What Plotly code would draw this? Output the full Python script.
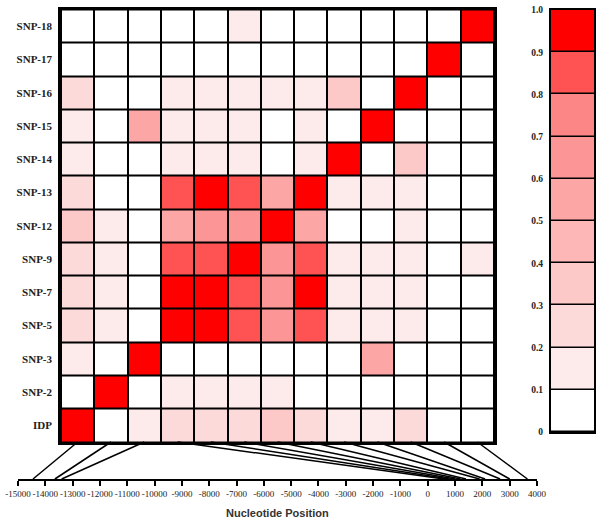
import plotly.graph_objects as go

# ---------------- data ----------------
snps = ["IDP", "SNP-2", "SNP-3", "SNP-5", "SNP-7", "SNP-9", "SNP-12",
        "SNP-13", "SNP-14", "SNP-15", "SNP-16", "SNP-17", "SNP-18"]

# nucleotide position of each marker (bp, relative)
positions = [-14450, -13650, -13400, 600, 800, 1000, 1200,
             1400, 1900, 2100, 2650, 3000, 3650]

# LD (r^2) matrix, rows from bottom (IDP) to top (SNP-18), columns in snps order
ld = [
    [1.00, 0.05, 0.15, 0.25, 0.25, 0.25, 0.35, 0.25, 0.15, 0.15, 0.25, 0.05, 0.05],  # IDP
    [0.05, 1.00, 0.05, 0.15, 0.15, 0.15, 0.15, 0.05, 0.05, 0.05, 0.05, 0.05, 0.05],  # SNP-2
    [0.15, 0.05, 1.00, 0.05, 0.05, 0.05, 0.05, 0.05, 0.05, 0.58, 0.05, 0.05, 0.05],  # SNP-3
    [0.25, 0.15, 0.05, 1.00, 0.95, 0.85, 0.65, 0.85, 0.15, 0.15, 0.15, 0.05, 0.05],  # SNP-5
    [0.25, 0.15, 0.05, 0.95, 1.00, 0.85, 0.68, 0.95, 0.15, 0.15, 0.15, 0.05, 0.05],  # SNP-7
    [0.25, 0.15, 0.05, 0.85, 0.85, 1.00, 0.65, 0.85, 0.15, 0.15, 0.15, 0.05, 0.15],  # SNP-9
    [0.35, 0.15, 0.05, 0.55, 0.65, 0.65, 1.00, 0.55, 0.05, 0.05, 0.15, 0.05, 0.05],  # SNP-12
    [0.25, 0.05, 0.05, 0.85, 0.95, 0.85, 0.55, 1.00, 0.15, 0.15, 0.15, 0.05, 0.05],  # SNP-13
    [0.15, 0.05, 0.05, 0.15, 0.15, 0.15, 0.05, 0.15, 1.00, 0.05, 0.35, 0.05, 0.05],  # SNP-14
    [0.15, 0.05, 0.58, 0.15, 0.15, 0.15, 0.05, 0.15, 0.05, 1.00, 0.05, 0.05, 0.05],  # SNP-15
    [0.25, 0.05, 0.05, 0.15, 0.15, 0.15, 0.15, 0.15, 0.35, 0.05, 1.00, 0.05, 0.05],  # SNP-16
    [0.05, 0.05, 0.05, 0.05, 0.05, 0.05, 0.05, 0.05, 0.05, 0.05, 0.05, 1.00, 0.05],  # SNP-17
    [0.05, 0.05, 0.05, 0.05, 0.05, 0.15, 0.05, 0.05, 0.05, 0.05, 0.05, 0.05, 1.00],  # SNP-18
]

# colour legend bins
bin_centers = [0.05, 0.15, 0.25, 0.35, 0.45, 0.55, 0.65, 0.75, 0.85, 0.95]
bin_colors = ["#FFFFFF", "#FDEBEB", "#FDDADA", "#FDC8C8", "#FDB7B7",
              "#FDA6A6", "#FC9696", "#FC8686", "#FF5353", "#FF0000"]
legend_ticks = [0, 0.1, 0.2, 0.3, 0.4, 0.5, 0.6, 0.7, 0.8, 0.9, 1.0]
legend_labels = ["0", "0.1", "0.2", "0.3", "0.4", "0.5", "0.6", "0.7", "0.8", "0.9", "1.0"]

pos_ticks = list(range(-15000, 4001, 1000))
pos_labels = [str(v) for v in pos_ticks]

# ---------------- layout geometry ----------------
W, H = 600, 524


def px_x(v):
    return v / W


def px_y(v):
    return 1 - v / H


heat_x = [px_x(61), px_x(494)]
heat_y = [px_y(442), px_y(9.5)]
cbar_x = [px_x(551), px_x(594)]
cbar_y = [px_y(432), px_y(10)]
axis_x = [px_x(18), px_x(537)]
axis_y0 = px_y(479)

colorscale = []
for i, c in enumerate(bin_colors):
    colorscale.append([i / 10, c])
    colorscale.append([(i + 1) / 10, c])

serif = "Liberation Serif, Times New Roman, serif"

fig = go.Figure()

fig.add_trace(go.Heatmap(
    z=ld, x=snps, y=snps, colorscale=colorscale, zmin=0, zmax=1,
    showscale=False, xgap=2, ygap=2, hoverinfo="skip",
    xaxis="x", yaxis="y"))

fig.add_trace(go.Heatmap(
    z=[[v] for v in bin_centers], x=[0], y=bin_centers,
    colorscale=colorscale, zmin=0, zmax=1, showscale=False,
    ygap=1.5, hoverinfo="skip", xaxis="x4", yaxis="y4"))

# connector lines from each column to its nucleotide position
n = len(snps)
lx, ly = [], []
for i, p in enumerate(positions):
    sx = heat_x[0] + (i + 0.5) / n * (heat_x[1] - heat_x[0])
    ex = axis_x[0] + (p - pos_ticks[0]) / (pos_ticks[-1] - pos_ticks[0]) * (axis_x[1] - axis_x[0])
    lx += [sx, ex, None]
    ly += [heat_y[0], axis_y0, None]
fig.add_trace(go.Scatter(x=lx, y=ly, mode="lines",
                         line=dict(color="black", width=1.5),
                         hoverinfo="skip", showlegend=False,
                         xaxis="x3", yaxis="y3"))

# dummy trace for the position axis
fig.add_trace(go.Scatter(x=[pos_ticks[0], pos_ticks[-1]], y=[0, 0], mode="markers",
                         marker=dict(opacity=0), hoverinfo="skip", showlegend=False,
                         xaxis="x2", yaxis="y2"))

for xr, yr in (("x", "y"), ("x4", "y4")):
    fig.add_shape(type="rect", xref=f"{xr} domain", yref=f"{yr} domain",
                  x0=0, x1=1, y0=0, y1=1, fillcolor="black",
                  line=dict(width=0), layer="below")

fig.update_layout(
    width=W, height=H,
    margin=dict(l=0, r=0, t=0, b=0),
    paper_bgcolor="white", plot_bgcolor="rgba(0,0,0,0)",
    showlegend=False,
    xaxis=dict(domain=heat_x, anchor="y", showticklabels=False, ticks="",
               showgrid=False, zeroline=False, showline=True, mirror=True,
               linecolor="black", linewidth=2.5, range=[-0.5, n - 0.5],
               fixedrange=True),
    yaxis=dict(domain=heat_y, anchor="x", showgrid=False, zeroline=False,
               showline=True, mirror=True, linecolor="black", linewidth=2.5,
               ticks="outside", ticklen=4, tickcolor="rgba(0,0,0,0)",
               tickfont=dict(family=serif, size=11, color="#222", weight="bold"),
               range=[-0.5, n - 0.5], automargin=False),
    xaxis2=dict(domain=axis_x, anchor="y2", range=[pos_ticks[0], pos_ticks[-1]],
                showline=True, linecolor="black", linewidth=1.8,
                ticks="outside", ticklen=5, tickwidth=1.8, tickcolor="black",
                tickvals=pos_ticks, ticktext=pos_labels, tickangle=0,
                tickfont=dict(family=serif, size=9, color="#222"),
                showgrid=False, zeroline=False, automargin=False),
    yaxis2=dict(domain=[axis_y0, axis_y0 + 0.001], anchor="x2", visible=False,
                range=[0, 1]),
    xaxis3=dict(domain=[0, 1], range=[0, 1], visible=False, anchor="y3"),
    yaxis3=dict(domain=[0, 1], range=[0, 1], visible=False, anchor="x3"),
    xaxis4=dict(domain=cbar_x, anchor="y4", showticklabels=False, ticks="",
                showgrid=False, zeroline=False, showline=True, mirror=True,
                linecolor="black", linewidth=2.2, range=[-0.5, 0.5]),
    yaxis4=dict(domain=cbar_y, anchor="x4", range=[0, 1], showgrid=False,
                zeroline=False, showline=True, mirror=True, linecolor="black",
                linewidth=2.2, tickvals=legend_ticks, ticktext=legend_labels,
                ticks="outside", ticklen=4, tickcolor="rgba(0,0,0,0)",
                tickfont=dict(family=serif, size=9.5, color="#222", weight="bold"),
                automargin=False),
    annotations=[dict(text="Nucleotide Position", xref="paper", yref="paper",
                      x=px_x(277), y=px_y(513), xanchor="center", yanchor="middle",
                      showarrow=False,
                      font=dict(family="Liberation Sans, Arial, sans-serif",
                                size=11, color="#333", weight="bold"))],
)

# the page body has a default 8px margin; remove it so the figure fills the window
fig.write_html("out.html", config={"displayModeBar": False},
               post_script="document.body.style.margin='0';document.body.style.overflow='hidden';")
